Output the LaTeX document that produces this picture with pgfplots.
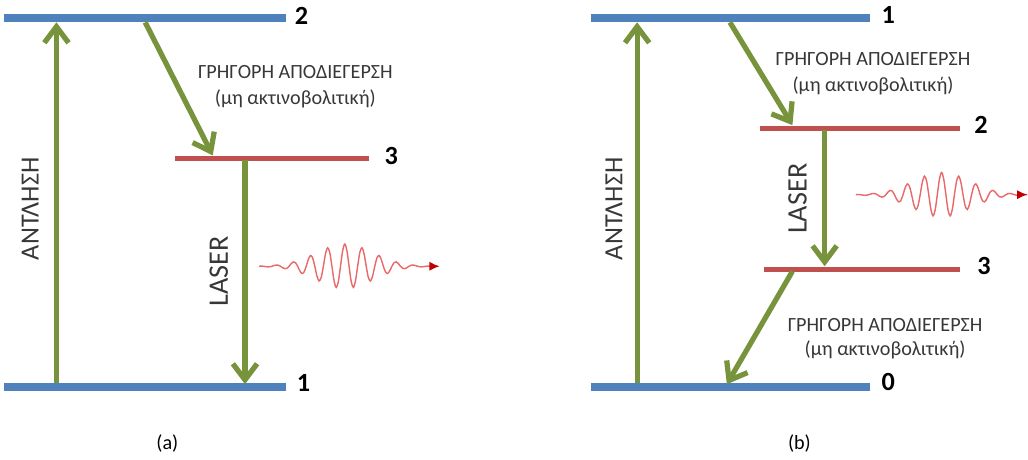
\documentclass[border=0pt]{standalone}
\usepackage{pgfplots}
\usepackage{pgfplotstable}
\pgfplotsset{compat=1.18}
\usetikzlibrary{arrows.meta}
\usepackage{fontspec}
\setmainfont{Carlito}
\definecolor{lvlblue}{RGB}{79,129,189}
\definecolor{lvlred}{RGB}{192,80,77}
\definecolor{arrgreen}{RGB}{119,147,60}
\definecolor{wavered}{RGB}{232,105,105}
\definecolor{arrowred}{RGB}{192,0,0}
\definecolor{txtgray}{RGB}{55,55,55}
\tikzset{
  blue level/.style={lvlblue,line width=4pt,line cap=butt},
  red level/.style={lvlred,line width=2.4pt,line cap=butt},
  garrow/.style={arrgreen,line width=2.6pt,line cap=butt,-{Straight Barb[length=8pt,width=12pt]}},
  wave/.style={wavered,line width=0.7pt,smooth,tension=0.5},
  wavearrow/.style={wavered,line width=0.7pt,-{Latex[length=5pt,width=4.5pt,color=arrowred]}},
  greek/.style={font=\fontsize{10}{12}\selectfont,text=txtgray},
  num/.style={font=\bfseries\fontsize{13}{15}\selectfont},
  vlabel/.style={font=\fontsize{13}{15}\selectfont,rotate=90,text=txtgray}}
% wave packet: offset from its centre (dx) and height above its baseline (dy), in pixels
\pgfplotstableread{
dx dy
-85 0
-82.875 0.21
-80.75 0
-78.625 -0.33
-76.5 -0.57
-74.375 -0.49
-72.25 0
-70.125 0.72
-68 1.23
-65.875 1.03
-63.75 0
-61.625 -1.45
-59.5 -2.41
-57.375 -1.99
-55.25 0
-53.125 2.67
-51 4.33
-48.875 3.49
-46.75 0
-44.625 -4.48
-42.5 -7.11
-40.375 -5.61
-38.25 0
-36.125 6.87
-34 10.68
-31.875 8.23
-29.75 0
-27.625 -9.64
-25.5 -14.63
-23.375 -11.05
-21.25 0
-19.125 12.38
-17 18.37
-14.875 13.55
-12.75 0
-10.625 -14.50
-8.5 -21.03
-6.375 -15.17
-4.25 0
-2.125 15.51
0 22
2.125 15.51
4.25 0
6.375 -15.17
8.5 -21.03
10.625 -14.50
12.75 0
14.875 13.55
17 18.37
19.125 12.38
21.25 0
23.375 -11.05
25.5 -14.63
27.625 -9.64
29.75 0
31.875 8.23
34 10.68
36.125 6.87
38.25 0
40.375 -5.61
42.5 -7.11
44.625 -4.48
46.75 0
48.875 3.49
51 4.33
53.125 2.67
55.25 0
57.375 -1.99
59.5 -2.41
61.625 -1.45
63.75 0
65.875 1.03
68 1.23
70.125 0.72
72.25 0
74.375 -0.49
76.5 -0.57
78.625 -0.33
80.75 0
82.875 0.21
85 0
}\wavetable
\begin{document}
\begin{tikzpicture}
\begin{axis}[width=514pt,height=230.5pt,scale only axis,axis lines=none,
  xmin=0,xmax=1028,ymin=0,ymax=461,y dir=reverse,clip=false]
% ---------------- panel (a) ----------------
\addplot[blue level] coordinates {(8,21) (288,21)};
\addplot[red level] coordinates {(178,160) (370,160)};
\addplot[blue level] coordinates {(8,387) (288,387)};
\addplot[garrow] coordinates {(60,383) (60,25)};
\addplot[garrow] coordinates {(148,25) (215,157)};
\addplot[garrow] coordinates {(247,162) (247,384)};
\addplot[wave] table[x expr=\thisrow{dx}+346, y expr=267-\thisrow{dy}] {\wavetable};
\addplot[wavearrow] coordinates {(429,267) (440,267)};
\node[num] at (303,19) {2};
\node[num] at (392,158) {3};
\node[num] at (305,383) {1};
\node[vlabel] at (34,210) {ΑΝΤΛΗΣΗ};
\node[vlabel,font=\fontsize{14}{16}\selectfont] at (221,272) {LASER};
\node[greek] at (297,74) {ΓΡΗΓΟΡΗ ΑΠΟΔΙΕΓΕΡΣΗ};
\node[greek] at (297,101) {(μη ακτινοβολιτική)};
\node[font=\fontsize{10}{12}\selectfont] at (170,443) {(a)};
% ---------------- panel (b) ----------------
\addplot[blue level] coordinates {(590,21) (867,21)};
\addplot[red level] coordinates {(758,130) (956,130)};
\addplot[red level] coordinates {(762,270) (956,270)};
\addplot[blue level] coordinates {(590,387) (867,387)};
\addplot[garrow] coordinates {(636,383) (636,25)};
\addplot[garrow] coordinates {(728,25) (790,127)};
\addplot[garrow] coordinates {(822,132) (822,267)};
\addplot[garrow] coordinates {(790,272) (725,384)};
\addplot[wave] table[x expr=\thisrow{dx}+938, y expr=196-\thisrow{dy}] {\wavetable};
\addplot[wavearrow] coordinates {(1013,196) (1023,196)};
\node[num] at (885,18) {1};
\node[num] at (977,127) {2};
\node[num] at (980,267) {3};
\node[num] at (885,382) {0};
\node[vlabel] at (613,210) {ΑΝΤΛΗΣΗ};
\node[vlabel,font=\fontsize{14}{16}\selectfont] at (795,200) {LASER};
\node[greek] at (870,61) {ΓΡΗΓΟΡΗ ΑΠΟΔΙΕΓΕΡΣΗ};
\node[greek] at (870,88) {(μη ακτινοβολιτική)};
\node[greek] at (882,325) {ΓΡΗΓΟΡΗ ΑΠΟΔΙΕΓΕΡΣΗ};
\node[greek] at (882,350) {(μη ακτινοβολιτική)};
\node[font=\fontsize{10}{12}\selectfont] at (797,443) {(b)};
\end{axis}
\end{tikzpicture}
\end{document}
